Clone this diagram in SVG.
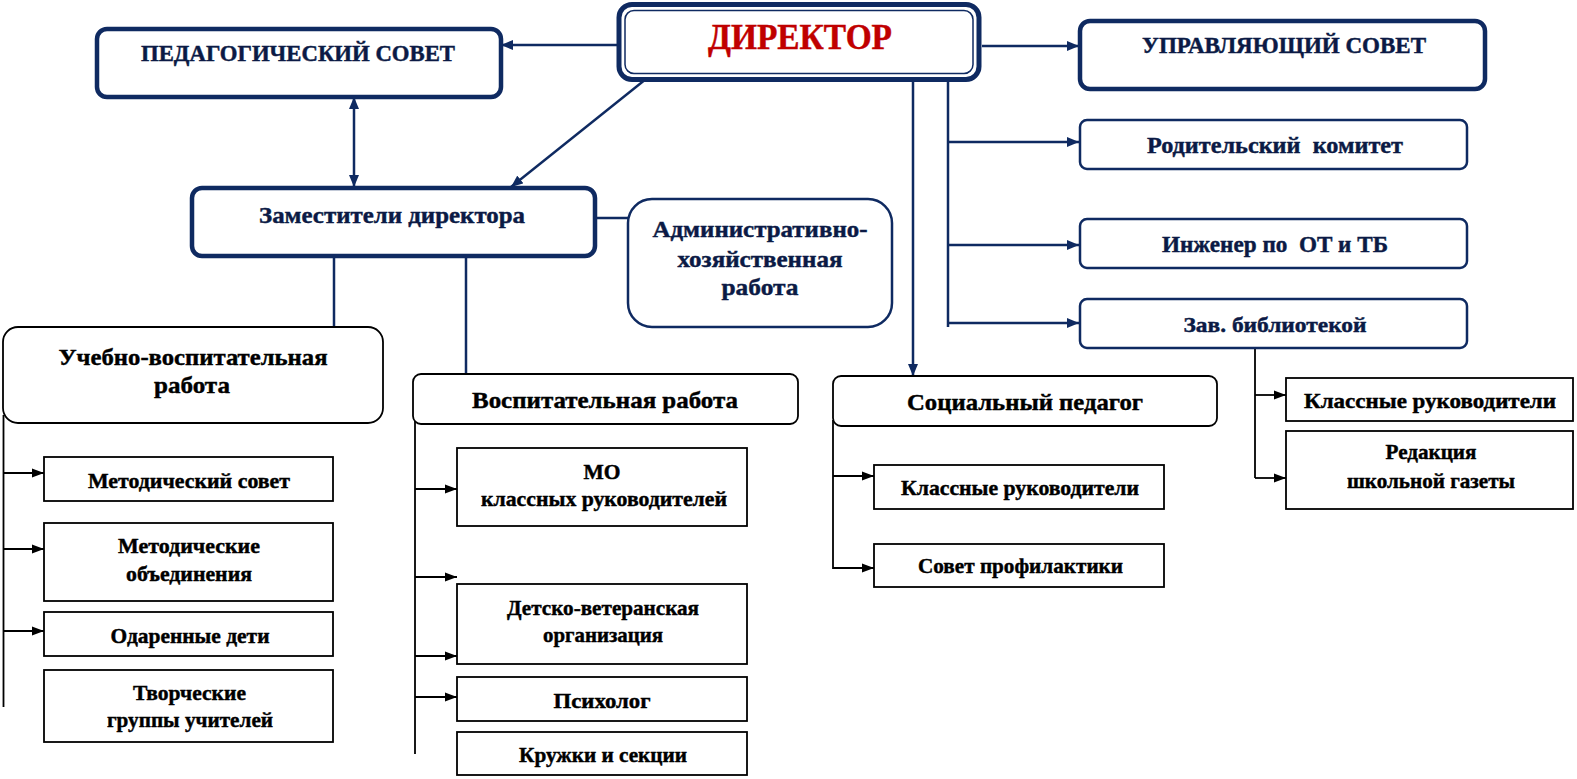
<svg xmlns="http://www.w3.org/2000/svg" width="1577" height="779" viewBox="0 0 1577 779">
<style>
text{font-family:"Liberation Serif","DejaVu Serif","Times New Roman",serif;font-weight:bold;text-anchor:middle;stroke-width:0.45}
.nv{fill:#0b1a45;stroke:#0b1a45}
.blk{fill:#000;stroke:#000}
.red{fill:#c00000;stroke:#c00000}
.big{fill:#fff;stroke:#0f2a61;stroke-width:4.5}
.mid{fill:#fff;stroke:#0f2a61;stroke-width:2.5}
.sec{fill:#fff;stroke:#000;stroke-width:1.8}
.itm{fill:#fff;stroke:#000;stroke-width:1.8}
.cn{stroke:#0f2a61;stroke-width:2.5;fill:none}
.cb{stroke:#000;stroke-width:1.8;fill:none}
.f35{font-size:35px}
.f23{font-size:23px}
.f24{font-size:24px}
.f22{font-size:22px}
</style>
<defs>
<marker id="an" markerUnits="userSpaceOnUse" markerWidth="12" markerHeight="10" refX="12" refY="5" orient="auto-start-reverse"><path d="M0,0 L12,5 L0,10 z" fill="#0f2a61"/></marker>
<marker id="ab" markerUnits="userSpaceOnUse" markerWidth="12" markerHeight="10" refX="12" refY="5" orient="auto"><path d="M0,0.5 L12,5 L0,9.5 z" fill="#000"/></marker>
</defs>

<g id="connectors">
<line class="cn" x1="617" y1="45" x2="501" y2="45" marker-end="url(#an)"/>
<line class="cn" x1="982" y1="46" x2="1079" y2="46" marker-end="url(#an)"/>
<line class="cn" x1="651" y1="75" x2="511" y2="187" marker-end="url(#an)"/>
<line class="cn" x1="354" y1="97" x2="354" y2="187" marker-start="url(#an)" marker-end="url(#an)"/>
<line class="cn" x1="913" y1="78" x2="913" y2="376" marker-end="url(#an)"/>
<line class="cn" x1="948" y1="78" x2="948" y2="327"/>
<line class="cn" x1="948" y1="142" x2="1079" y2="142" marker-end="url(#an)"/>
<line class="cn" x1="948" y1="245" x2="1079" y2="245" marker-end="url(#an)"/>
<line class="cn" x1="948" y1="323" x2="1079" y2="323" marker-end="url(#an)"/>
<line class="cn" x1="595" y1="218" x2="628" y2="218"/>
<line class="cn" x1="334" y1="256" x2="334" y2="327"/>
<line class="cn" x1="466" y1="256" x2="466" y2="374"/>

<line class="cb" x1="3.5" y1="415" x2="3.5" y2="707"/>
<line class="cb" x1="3" y1="473" x2="44" y2="473" marker-end="url(#ab)"/>
<line class="cb" x1="3" y1="549" x2="44" y2="549" marker-end="url(#ab)"/>
<line class="cb" x1="3" y1="631" x2="44" y2="631" marker-end="url(#ab)"/>

<line class="cb" x1="415" y1="420" x2="415" y2="754"/>
<line class="cb" x1="415" y1="489" x2="457" y2="489" marker-end="url(#ab)"/>
<line class="cb" x1="415" y1="577" x2="457" y2="577" marker-end="url(#ab)"/>
<line class="cb" x1="415" y1="656" x2="457" y2="656" marker-end="url(#ab)"/>
<line class="cb" x1="415" y1="697" x2="457" y2="697" marker-end="url(#ab)"/>

<line class="cb" x1="833" y1="420" x2="833" y2="569"/>
<line class="cb" x1="833" y1="476" x2="874" y2="476" marker-end="url(#ab)"/>
<line class="cb" x1="833" y1="568" x2="874" y2="568" marker-end="url(#ab)"/>

<line class="cb" x1="1255" y1="348" x2="1255" y2="478"/>
<line class="cb" x1="1255" y1="395" x2="1286" y2="395" marker-end="url(#ab)"/>
<line class="cb" x1="1255" y1="478" x2="1286" y2="478" marker-end="url(#ab)"/>
</g>

<g id="director">
<rect x="619" y="4.5" width="360" height="75" rx="13" fill="#fff" stroke="#0f2a61" stroke-width="5"/>
<rect x="625" y="10.5" width="348" height="63" rx="9" fill="none" stroke="#0f2a61" stroke-width="1.5"/>
<text class="red f35" x="800" y="49" textLength="184" lengthAdjust="spacingAndGlyphs">ДИРЕКТОР</text>
</g>

<g id="ped-sovet">
<rect class="big" x="97" y="29" width="404" height="68" rx="10"/>
<text class="nv f23" x="298" y="61" textLength="314" lengthAdjust="spacingAndGlyphs">ПЕДАГОГИЧЕСКИЙ СОВЕТ</text>
</g>

<g id="upr-sovet">
<rect class="big" x="1080" y="21" width="405" height="68" rx="10"/>
<text class="nv f23" x="1284" y="53" textLength="284" lengthAdjust="spacingAndGlyphs">УПРАВЛЯЮЩИЙ СОВЕТ</text>
</g>

<g id="rodit">
<rect class="mid" x="1080" y="120" width="387" height="49" rx="7"/>
<text class="nv f24" x="1275" y="153" textLength="256" lengthAdjust="spacingAndGlyphs" xml:space="preserve">Родительский  комитет</text>
</g>

<g id="inzhener">
<rect class="mid" x="1080" y="219" width="387" height="49" rx="7"/>
<text class="nv f24" x="1275" y="252" textLength="226" lengthAdjust="spacingAndGlyphs" xml:space="preserve">Инженер по  ОТ и ТБ</text>
</g>

<g id="zav-bibl">
<rect class="mid" x="1080" y="299" width="387" height="49" rx="7"/>
<text class="nv f22" x="1275" y="332" textLength="183" lengthAdjust="spacingAndGlyphs">Зав. библиотекой</text>
</g>

<g id="zamestiteli">
<rect class="big" x="192" y="188" width="403" height="68" rx="10"/>
<text class="nv f24" x="392" y="223" textLength="266" lengthAdjust="spacingAndGlyphs">Заместители директора</text>
</g>

<g id="admin">
<rect class="mid" x="628" y="199" width="264" height="128" rx="24"/>
<text class="nv f24" x="760" y="237" textLength="215" lengthAdjust="spacingAndGlyphs">Административно-</text>
<text class="nv f24" x="760" y="267" textLength="165" lengthAdjust="spacingAndGlyphs">хозяйственная</text>
<text class="nv f24" x="760" y="295" textLength="77" lengthAdjust="spacingAndGlyphs">работа</text>
</g>

<g id="uchebno">
<rect class="sec" x="3" y="327" width="380" height="96" rx="15"/>
<text class="blk f24" x="193" y="365" textLength="269" lengthAdjust="spacingAndGlyphs">Учебно-воспитательная</text>
<text class="blk f24" x="192" y="393" textLength="76" lengthAdjust="spacingAndGlyphs">работа</text>
</g>

<g id="metod-sovet">
<rect class="itm" x="44" y="457" width="289" height="44"/>
<text class="blk f22" x="189" y="488" textLength="202" lengthAdjust="spacingAndGlyphs">Методический совет</text>
</g>

<g id="metod-ob">
<rect class="itm" x="44" y="523" width="289" height="78"/>
<text class="blk f22" x="189" y="553" textLength="142" lengthAdjust="spacingAndGlyphs">Методические</text>
<text class="blk f22" x="189" y="581" textLength="126" lengthAdjust="spacingAndGlyphs">объединения</text>
</g>

<g id="odarennye">
<rect class="itm" x="44" y="612" width="289" height="44"/>
<text class="blk f22" x="190" y="643" textLength="159" lengthAdjust="spacingAndGlyphs">Одаренные дети</text>
</g>

<g id="tvorch">
<rect class="itm" x="44" y="670" width="289" height="72"/>
<text class="blk f22" x="189.5" y="700" textLength="113" lengthAdjust="spacingAndGlyphs">Творческие</text>
<text class="blk f22" x="190" y="727" textLength="166" lengthAdjust="spacingAndGlyphs">группы учителей</text>
</g>

<g id="vospit">
<rect class="sec" x="413" y="374" width="385" height="50" rx="8"/>
<text class="blk f24" x="605" y="408" textLength="266" lengthAdjust="spacingAndGlyphs">Воспитательная работа</text>
</g>

<g id="mo-kl">
<rect class="itm" x="457" y="448" width="290" height="78"/>
<text class="blk f22" x="602" y="479" textLength="37" lengthAdjust="spacingAndGlyphs">МО</text>
<text class="blk f22" x="604" y="506" textLength="246" lengthAdjust="spacingAndGlyphs">классных руководителей</text>
</g>

<g id="detsko">
<rect class="itm" x="457" y="584" width="290" height="80"/>
<text class="blk f22" x="603" y="615" textLength="192" lengthAdjust="spacingAndGlyphs">Детско-ветеранская</text>
<text class="blk f22" x="603" y="642" textLength="120" lengthAdjust="spacingAndGlyphs">организация</text>
</g>

<g id="psikholog">
<rect class="itm" x="457" y="677" width="290" height="44"/>
<text class="blk f22" x="602" y="708" textLength="97" lengthAdjust="spacingAndGlyphs">Психолог</text>
</g>

<g id="kruzhki">
<rect class="itm" x="457" y="732" width="290" height="43"/>
<text class="blk f22" x="603" y="762" textLength="168" lengthAdjust="spacingAndGlyphs">Кружки и секции</text>
</g>

<g id="social">
<rect class="sec" x="833" y="376" width="384" height="50" rx="8"/>
<text class="blk f24" x="1025" y="410" textLength="236" lengthAdjust="spacingAndGlyphs">Социальный педагог</text>
</g>

<g id="klass-ruk-1">
<rect class="itm" x="874" y="465" width="290" height="44"/>
<text class="blk f22" x="1020" y="495" textLength="238" lengthAdjust="spacingAndGlyphs">Классные руководители</text>
</g>

<g id="sovet-prof">
<rect class="itm" x="874" y="544" width="290" height="43"/>
<text class="blk f22" x="1020.5" y="573" textLength="205" lengthAdjust="spacingAndGlyphs">Совет профилактики</text>
</g>

<g id="klass-ruk-2">
<rect class="itm" x="1286" y="378" width="287" height="43"/>
<text class="blk f22" x="1430" y="408" textLength="252" lengthAdjust="spacingAndGlyphs">Классные руководители</text>
</g>

<g id="redaktsiya">
<rect class="itm" x="1286" y="431" width="287" height="78"/>
<text class="blk f22" x="1431" y="459" textLength="91" lengthAdjust="spacingAndGlyphs">Редакция</text>
<text class="blk f22" x="1431" y="488" textLength="168" lengthAdjust="spacingAndGlyphs">школьной газеты</text>
</g>
</svg>
